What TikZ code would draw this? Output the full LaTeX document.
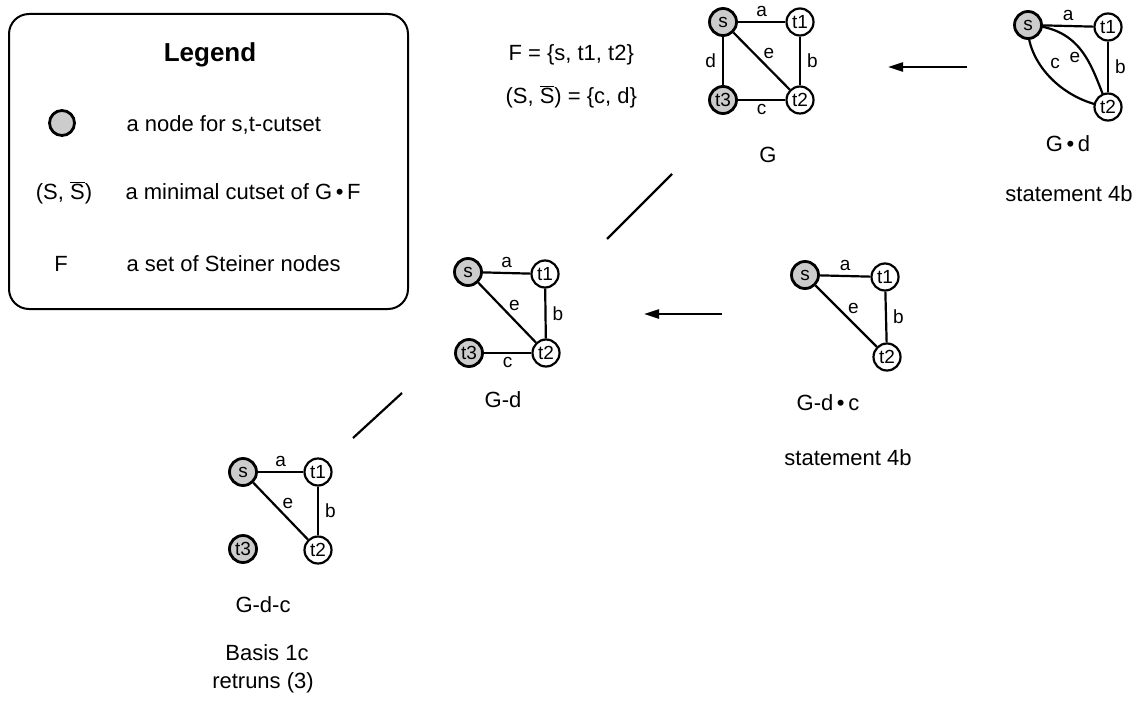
\documentclass[tikz,border=0pt]{standalone}
\usepackage{fontspec}
\setmainfont{Liberation Sans}
\usetikzlibrary{arrows.meta}
\pgfdeclarelayer{bg}
\pgfsetlayers{bg,main}
\tikzset{
  gn/.style={circle, draw, line width=2.2pt, minimum size=27pt, inner sep=0pt, fill=white, font=\fontsize{19}{19}\selectfont},
  sn/.style={gn, fill=gray!40, line width=2.8pt},
  ed/.style={line width=2.2pt},
  el/.style={font=\fontsize{19}{19}\selectfont},
  lab/.style={font=\fontsize{22}{22}\selectfont, anchor=base},
  arr/.style={line width=2.2pt, -{Triangle[length=15pt,width=9pt]}},
  sep/.style={line width=2.2pt},
}
\newcommand{\Sbar}{\(\overline{\mbox{S}}\)}
\begin{document}
\begin{tikzpicture}[x=1pt,y=-1pt]
\useasboundingbox (0,0) rectangle (1140,709);
\begin{pgfonlayer}{bg}
\fill[white] (0,0) rectangle (1140,709);
\end{pgfonlayer}

% Legend
\node[draw, line width=2pt, rounded corners=20pt, minimum width=399pt, minimum height=295pt, anchor=north west] (legend) at (8,13) {};
\node[lab, font=\fontsize{26}{26}\selectfont\bfseries] (legtitle) at (210,62) {Legend};
\node[sn, minimum size=25pt] (legcirc) at (62,123) {};
\node[lab, anchor=base west] (leg1) at (123,131) {a node for s,t-cutset};
\node[lab] (legS) at (64,199) {(S, \Sbar)};
\node[lab, anchor=base west] (leg2) at (122,199) {a minimal cutset of G\,•\,F};
\node[lab] (legF) at (61,271) {F};
\node[lab, anchor=base west] (leg3) at (123,271) {a set of Steiner nodes};

% F and cutset text
\node[lab, anchor=base west] (ftext) at (505,61) {F = \{s, t1, t2\}};
\node[lab, anchor=base west] (stext) at (502,103) {(S, \Sbar) = \{c, d\}};

% Graph G
\node[sn] (gs) at (723,22) {s};
\node[gn] (gt1) at (800,22) {t1};
\node[sn] (gt3) at (723,100) {t3};
\node[gn] (gt2) at (800,100) {t2};
\draw[ed] (gs) -- node[el, above, inner sep=4pt] {a} (gt1);
\draw[ed] (gt1) -- node[el, right, inner sep=6pt] {b} (gt2);
\draw[ed] (gt3) -- node[el, below, inner sep=3pt] {c} (gt2);
\draw[ed] (gs) -- node[el, left, inner sep=6pt] {d} (gt3);
\draw[ed] (gs) -- node[el, above right, inner sep=1pt] {e} (gt2);
\node[lab] (glab) at (768,162) {G};

% Graph G.d
\node[sn] (ds) at (1028,25) {s};
\node[gn] (dt1) at (1108,27) {t1};
\node[gn] (dt2) at (1108,107) {t2};
\draw[ed] (ds) -- node[el, above, inner sep=4pt] {a} (dt1);
\draw[ed] (dt1) -- node[el, right, inner sep=6pt] {b} (dt2);
\begin{pgfonlayer}{bg}
\draw[ed] (ds.center) .. controls (1085,28) and (1092,70) .. (dt2.center);
\draw[ed] (ds.center) .. controls (1026,60) and (1060,100) .. (dt2.center);
\end{pgfonlayer}
\node[el] (de) at (1075,57) {e};
\node[el] (dc) at (1055,63) {c};
\node[lab] (gdlab) at (1068,151) {G\,•\,d};
\node[lab] (gdst) at (1069,201) {statement 4b};

% arrow G.d -> G
\coordinate (a1s) at (967,67);
\coordinate (a1e) at (888,67);
\draw[arr] (a1s) -- (a1e);

% Graph G-d
\node[sn] (ms) at (468,272) {s};
\node[gn] (mt1) at (545,274) {t1};
\node[sn] (mt3) at (469,353) {t3};
\node[gn] (mt2) at (546,353) {t2};
\draw[ed] (ms) -- node[el, above, inner sep=4pt] {a} (mt1);
\draw[ed] (mt1) -- node[el, right, inner sep=6pt] {b} (mt2);
\draw[ed] (mt3) -- node[el, below, inner sep=3pt] {c} (mt2);
\draw[ed] (ms) -- node[el, above right, inner sep=1pt] {e} (mt2);
\node[lab] (mlab) at (503,407) {G-d};

% Graph G-d.c
\node[sn] (cs) at (805,275) {s};
\node[gn] (ct1) at (885,277) {t1};
\node[gn] (ct2) at (887,357) {t2};
\draw[ed] (cs) -- node[el, above, inner sep=4pt] {a} (ct1);
\draw[ed] (ct1) -- node[el, right, inner sep=6pt] {b} (ct2);
\draw[ed] (cs) -- node[el, above right, inner sep=1pt] {e} (ct2);
\node[lab] (clab) at (828,410) {G-d\,•\,c};
\node[lab] (cst) at (848,465) {statement 4b};

% arrow G-d.c -> G-d
\coordinate (a2s) at (722,314);
\coordinate (a2e) at (644,314);
\draw[arr] (a2s) -- (a2e);

% Graph G-d-c
\node[sn] (bs) at (243,472) {s};
\node[gn] (bt1) at (318,472) {t1};
\node[sn] (bt3) at (243,549) {t3};
\node[gn] (bt2) at (318,550) {t2};
\draw[ed] (bs) -- node[el, above, inner sep=4pt] {a} (bt1);
\draw[ed] (bt1) -- node[el, right, inner sep=6pt] {b} (bt2);
\draw[ed] (bs) -- node[el, above right, inner sep=1pt] {e} (bt2);
\node[lab] (blab) at (263,612) {G-d-c};
\node[lab] (bbas) at (267,660) {Basis 1c};
\node[lab] (bret) at (263,688) {retruns (3)};

% separators
\coordinate (l1a) at (607,239);
\coordinate (l1b) at (672,174);
\draw[sep] (l1a) -- (l1b);
\coordinate (l2a) at (353,438);
\coordinate (l2b) at (402,393);
\draw[sep] (l2a) -- (l2b);
\end{tikzpicture}
\end{document}
